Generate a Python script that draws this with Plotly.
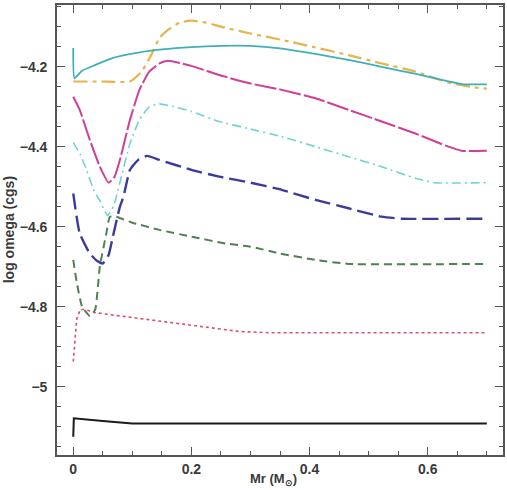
import plotly.graph_objects as go

# ---- data ----
teal_x = [0, 0.002, 0.015, 0.037, 0.065, 0.11, 0.15, 0.2, 0.25, 0.3, 0.35, 0.41, 0.47, 0.52, 0.58, 0.635, 0.66, 0.70]
teal_y = [-4.153, -4.229, -4.21, -4.196, -4.179, -4.165, -4.157, -4.151, -4.148, -4.148, -4.154, -4.168, -4.184, -4.2, -4.218, -4.237, -4.244, -4.244]

gold_x = [0, 0.05, 0.096, 0.116, 0.133, 0.146, 0.163, 0.18, 0.2, 0.225, 0.25, 0.3, 0.353, 0.41, 0.466, 0.522, 0.579, 0.635, 0.69, 0.70]
gold_y = [-4.237, -4.237, -4.237, -4.212, -4.168, -4.128, -4.105, -4.09, -4.085, -4.09, -4.1, -4.117, -4.133, -4.152, -4.171, -4.192, -4.212, -4.24, -4.254, -4.255]

magenta_x = [0, 0.011, 0.028, 0.045, 0.06, 0.07, 0.079, 0.096, 0.112, 0.129, 0.146, 0.16, 0.2, 0.247, 0.3, 0.353, 0.41, 0.466, 0.522, 0.579, 0.635, 0.657, 0.70]
magenta_y = [-4.275, -4.308, -4.383, -4.45, -4.49, -4.475, -4.433, -4.333, -4.258, -4.212, -4.192, -4.185, -4.198, -4.221, -4.242, -4.258, -4.279, -4.308, -4.337, -4.367, -4.4, -4.41, -4.41]

cyan_x = [0, 0.012, 0.023, 0.035, 0.045, 0.058, 0.068, 0.079, 0.096, 0.112, 0.129, 0.146, 0.17, 0.2, 0.247, 0.3, 0.353, 0.41, 0.466, 0.522, 0.579, 0.612, 0.70]
cyan_y = [-4.39, -4.42, -4.46, -4.51, -4.535, -4.572, -4.55, -4.49, -4.392, -4.333, -4.3, -4.293, -4.3, -4.312, -4.337, -4.356, -4.375, -4.4, -4.425, -4.45, -4.479, -4.49, -4.49]

navy_x = [0, 0.011, 0.028, 0.04, 0.05, 0.06, 0.067, 0.079, 0.085, 0.096, 0.11, 0.125, 0.146, 0.2, 0.247, 0.3, 0.353, 0.41, 0.466, 0.522, 0.556, 0.70]
navy_y = [-4.517, -4.617, -4.667, -4.685, -4.692, -4.67, -4.625, -4.55, -4.525, -4.458, -4.433, -4.423, -4.433, -4.458, -4.475, -4.49, -4.508, -4.533, -4.554, -4.575, -4.58, -4.58]

green_x = [0, 0.006, 0.015, 0.028, 0.037, 0.045, 0.056, 0.062, 0.072, 0.1, 0.146, 0.2, 0.258, 0.3, 0.35, 0.41, 0.466, 0.70]
green_y = [-4.683, -4.74, -4.8, -4.823, -4.808, -4.7, -4.617, -4.575, -4.575, -4.59, -4.608, -4.625, -4.642, -4.65, -4.667, -4.683, -4.693, -4.693]

red_x = [0, 0.006, 0.012, 0.02, 0.037, 0.09, 0.13, 0.202, 0.281, 0.33, 0.40, 0.697]
red_y = [-4.9375, -4.83, -4.807, -4.807, -4.815, -4.825, -4.833, -4.848, -4.862, -4.865, -4.865, -4.865]

black_x = [0, 0.001, 0.05, 0.1, 0.70]
black_y = [-5.125, -5.079, -5.086, -5.092, -5.092]

x_tickvals = [0, 0.2, 0.4, 0.6]
x_ticktext = ["0", "0.2", "0.4", "0.6"]
y_tickvals = [-5, -4.8, -4.6, -4.4, -4.2]
y_ticktext = ["\u22125", "\u22124.8", "\u22124.6", "\u22124.4", "\u22124.2"]

x_title = "Mr (M<sub>\u2299</sub>)"
y_title = "log omega (cgs)"

# (x, y, colour, dash, width, shape)
series = [
    (black_x, black_y, "#1a1a1a", "solid", 2.0, "linear"),
    (red_x, red_y, "#d9506a", "dot", 1.6, "linear"),
    (green_x, green_y, "#4f7f55", "8px,5px", 2.0, "spline"),
    (navy_x, navy_y, "#3b3b9c", "16px,6px", 2.4, "spline"),
    (cyan_x, cyan_y, "#6fd3cf", "9px,4px,2px,4px", 1.6, "spline"),
    (magenta_x, magenta_y, "#cf3f98", "22px,3px", 2.0, "spline"),
    (gold_x, gold_y, "#e6b44a", "14px,5px,4px,5px", 2.2, "spline"),
    (teal_x, teal_y, "#3fb0b8", "solid", 1.8, "spline"),
]

fig = go.Figure()
for xs, ys, col, dash, w, shp in series:
    line = dict(color=col, dash=dash, width=w, shape=shp)
    if shp == "spline":
        line["smoothing"] = 0.45
    fig.add_trace(go.Scatter(x=xs, y=ys, mode="lines", line=line, showlegend=False))

label_font = dict(family="Liberation Sans, Arial, sans-serif", size=14, color="#3a3a3a", weight="bold")
title_font = dict(family="Liberation Sans, Arial, sans-serif", size=13, color="#3a3a3a", weight="bold")

axis_common = dict(
    showgrid=False, zeroline=False, showline=True, linecolor="#555", linewidth=1.6,
    mirror="ticks", ticks="inside", ticklen=8, tickwidth=1.3, tickcolor="#555",
    tickfont=label_font,
)

fig.update_xaxes(range=[-0.0275, 0.7274], tickvals=x_tickvals, ticktext=x_ticktext,
                 minor=dict(dtick=0.05, tick0=0, ticks="inside", ticklen=4, tickwidth=1.2, tickcolor="#555"),
                 ticklabelstandoff=0, **axis_common)
fig.update_yaxes(range=[-5.1708, -4.0458], tickvals=y_tickvals, ticktext=y_ticktext,
                 minor=dict(dtick=0.05, tick0=-5, ticks="inside", ticklen=4, tickwidth=1.2, tickcolor="#555"),
                 ticklabelstandoff=5, **axis_common)

fig.update_layout(
    width=507, height=490,
    margin=dict(l=57, r=2, t=5, b=35),
    paper_bgcolor="white", plot_bgcolor="white",
    annotations=[
        dict(text=x_title, x=0.485, xref="paper", y=-0.078, yref="paper",
             xanchor="center", yanchor="bottom", showarrow=False, font=title_font),
        dict(text=y_title, x=-0.107, xref="paper", y=0.5, yref="paper",
             xanchor="center", yanchor="middle", textangle=-90, showarrow=False, font=label_font),
    ],
)

fig.write_html("out.html")
